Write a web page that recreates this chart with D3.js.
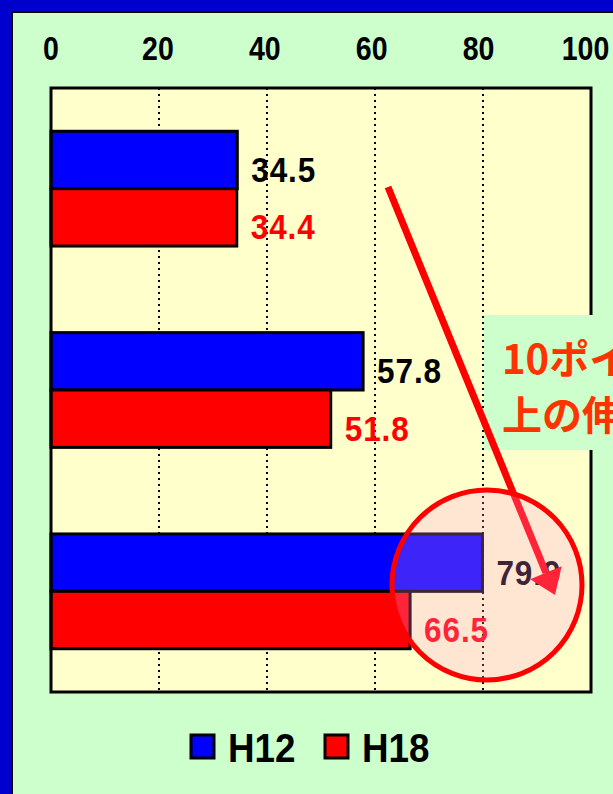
<html><head>
<script src="https://d3js.org/d3.v7.min.js"></script>
<style>
  body { margin: 0; }
  svg text { font-family: "Liberation Sans", Arial, sans-serif; font-weight: bold; }
  .jp { font-family: "Noto Sans CJK JP", sans-serif; font-weight: bold; }
</style>
</head>
<body>
<svg id="chart" width="613" height="794"></svg>
<script>
  // data
  const categories = ["A", "B", "C"];
  const seriesNames = ["H12", "H18"];
  const h12 = [34.5, 57.8, 79.9];
  const h18 = [34.4, 51.8, 66.5];
  const ticks = [0, 20, 40, 60, 80, 100];
  const calloutLines = ["10ポイント以", "上の伸び"];

  const colors = { H12: "#0000ff", H18: "#ff0000" };
  const labelColors = { H12: "#000000", H18: "#ff0000" };

  let svg = d3.select("#chart");
  let margin = { top: 88, left: 51, right: 22, bottom: 102 };
  let width = 613, height = 794;
  const squeeze = 0.84;   // narrow the latin glyphs, reference font is condensed

  // frame
  svg.append("rect").attr("width", width).attr("height", height).attr("fill", "#0000cc");
  svg.append("rect").attr("x", 11).attr("y", 11).attr("width", width).attr("height", height).attr("fill", "#000");
  svg.append("rect").attr("x", 13).attr("y", 13).attr("width", width).attr("height", height).attr("fill", "#ccffcc");

  const x = d3.scaleLinear().domain([0, 100]).range([margin.left, width - margin.right]);
  const y = d3.scaleBand().domain(categories).range([margin.top, height - margin.bottom]);
  const inner = d3.scaleBand().domain(seriesNames)
    .range([y.bandwidth() * 0.215, y.bandwidth() * 0.785]);

  // plot area
  svg.append("rect")
    .attr("x", x(0)).attr("y", margin.top)
    .attr("width", x(100) - x(0)).attr("height", height - margin.bottom - margin.top)
    .attr("fill", "#ffffcc");

  // gridlines
  svg.append("g").selectAll("line")
    .data(ticks.filter(t => t > 0 && t < 100))
    .join("line")
    .attr("x1", d => x(d)).attr("x2", d => x(d))
    .attr("y1", margin.top).attr("y2", height - margin.bottom)
    .attr("stroke", "#000").attr("stroke-width", 2)
    .attr("stroke-dasharray", "2,4");

  // tick labels on top
  svg.append("g").selectAll("text")
    .data(ticks)
    .join("text")
    .attr("transform", (d, i) => "translate(" + (x(d) - i * 1.1) + ",60) scale(" + squeeze + ",1)")
    .attr("text-anchor", "middle")
    .attr("font-size", 34)
    .attr("fill", "#000")
    .text(d => d);

  // bars
  let rows = [];
  categories.forEach((c, i) => {
    rows.push({ cat: c, s: "H12", v: h12[i] });
    rows.push({ cat: c, s: "H18", v: h18[i] });
  });

  let bars = svg.append("g");
  bars.selectAll("rect")
    .data(rows)
    .join("rect")
    .attr("x", x(0))
    .attr("y", d => y(d.cat) + inner(d.s))
    .attr("width", d => x(d.v) - x(0))
    .attr("height", inner.bandwidth())
    .attr("fill", d => colors[d.s])
    .attr("stroke", "#000")
    .attr("stroke-width", 3);

  bars.selectAll("text")
    .data(rows)
    .join("text")
    .attr("transform", d => "translate(" + (x(d.v) + 14) + "," +
      (y(d.cat) + inner(d.s) + inner.bandwidth() / 2 + 22) + ") scale(0.9,1)")
    .attr("font-size", 35)
    .attr("letter-spacing", 1)
    .attr("fill", d => labelColors[d.s])
    .text(d => d.v.toFixed(1));

  // plot border
  svg.append("rect")
    .attr("x", x(0)).attr("y", margin.top)
    .attr("width", x(100) - x(0)).attr("height", height - margin.bottom - margin.top)
    .attr("fill", "none").attr("stroke", "#000").attr("stroke-width", 3);

  // callout box
  svg.append("rect")
    .attr("x", x(80) + 1).attr("y", 315)
    .attr("width", 200).attr("height", 135)
    .attr("fill", "#ccffcc");
  svg.append("g").selectAll("text")
    .data(calloutLines)
    .join("text")
    .attr("class", "jp")
    .attr("x", 502)
    .attr("y", (d, i) => 374 + i * 56)
    .attr("font-size", 40)
    .attr("fill", "#ff3300")
    .text(d => d);

  // arrow
  let start = [388, 187], tip = [555, 595];
  let dx = tip[0] - start[0], dy = tip[1] - start[1];
  let len = Math.sqrt(dx * dx + dy * dy);
  let ux = dx / len, uy = dy / len;
  let headLen = 24, headW = 17;
  let base = [tip[0] - ux * headLen, tip[1] - uy * headLen];
  svg.append("line")
    .attr("x1", start[0]).attr("y1", start[1])
    .attr("x2", base[0]).attr("y2", base[1])
    .attr("stroke", "#ff0000").attr("stroke-width", 7);
  svg.append("polygon")
    .attr("points", [
      [base[0] - uy * headW, base[1] + ux * headW],
      [base[0] + uy * headW, base[1] - ux * headW],
      tip
    ].map(p => p.join(",")).join(" "))
    .attr("fill", "#ff0000");

  // highlight circle
  svg.append("circle")
    .attr("cx", 487).attr("cy", 585).attr("r", 95)
    .attr("fill", "rgba(255,150,230,0.24)")
    .attr("stroke", "#ff0000").attr("stroke-width", 5);

  // legend
  let legend = svg.append("g").attr("transform", "translate(191,735)");
  seriesNames.forEach((s, i) => {
    let g = legend.append("g").attr("transform", "translate(" + (i * 134) + ",0)");
    g.append("rect").attr("width", 23).attr("height", 23)
      .attr("fill", colors[s]).attr("stroke", "#000").attr("stroke-width", 3);
    g.append("text")
      .attr("transform", "translate(37,27) scale(0.92,1)")
      .attr("font-size", 40).attr("fill", "#000").text(s);
  });
</script>
</body>
</html>
